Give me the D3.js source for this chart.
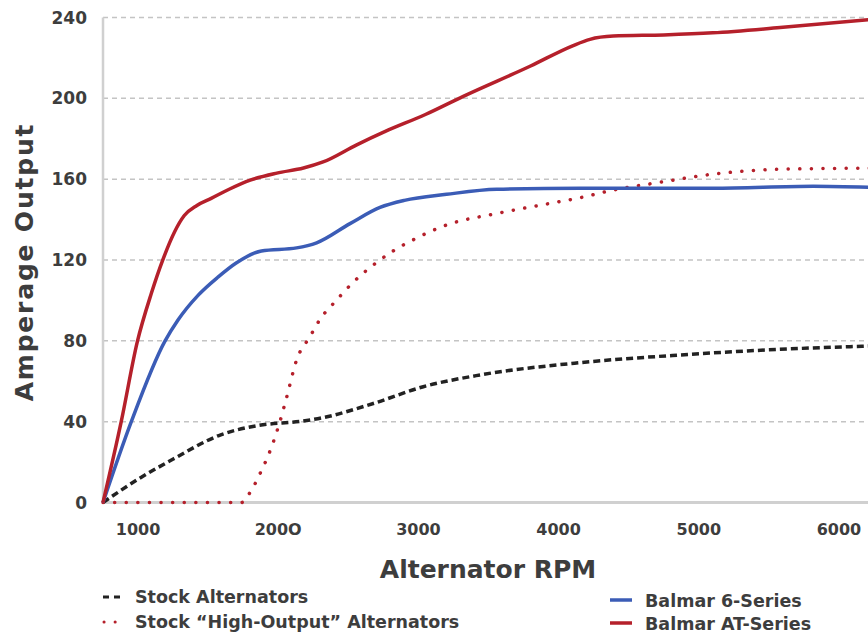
<!DOCTYPE html>
<html>
<head>
<meta charset="utf-8">
<script src="https://cdn.jsdelivr.net/npm/d3@7"></script>
<style>
  body { margin: 0; background: #fff; }
  text { font-family: "DejaVu Sans", sans-serif; font-weight: bold; fill: #3d3d3d; }
</style>
</head>
<body>
<svg width="868" height="632"></svg>
<script>
const svg = d3.select("svg");

// data (RPM -> amps)
const stockRpm  = [750, 1000, 1251, 1590, 1846, 2179, 2321, 2678, 3035, 3439, 4153, 4866, 5579, 6300];
const stockAmps = [0, 11.5, 21.5, 33.5, 38, 40.3, 42, 49, 57.3, 63.1, 69.2, 73, 75.8, 77.6];

const highRpm  = [750, 1000, 1300, 1600, 1739, 1798, 1882, 1953, 2012, 2060, 2131, 2226, 2298, 2417, 2535, 2678, 2809, 2963, 3201, 3558, 3915, 4153, 4390, 4747, 5103, 5579, 6300];
const highAmps = [0, 0, 0, 0, 0, 4.9, 16, 27.6, 40, 52, 70.5, 82, 90.6, 100.2, 109, 117.5, 124, 130, 137.3, 143, 147.7, 150.8, 154.6, 158.7, 162.5, 164.9, 165.5];

const sixRpm  = [750, 952, 1190, 1285, 1428, 1570, 1700, 1880, 2131, 2274, 2512, 2726, 2900, 3201, 3558, 4153, 5103, 5816, 6300];
const sixAmps = [0, 40, 79.6, 90.3, 102.5, 111.5, 118.5, 124.5, 126, 128.5, 138, 146, 149.5, 152.5, 155, 155.5, 155.5, 156.5, 155.8];

const atRpm  = [750, 880, 995, 1095, 1178, 1261, 1330, 1420, 1522, 1650, 1800, 1990, 2180, 2320, 2560, 2760, 3050, 3320, 3800, 4100, 4224, 4390, 4750, 5100, 5580, 6300];
const atAmps = [0, 40, 79.6, 103.5, 120.3, 134, 142, 147, 150.5, 155, 159.5, 163, 165.5, 168.5, 177, 183.5, 192, 201, 216, 226, 229.2, 230.8, 231.4, 232.4, 235, 239.5];

const xTicks = [1000, 2000, 3000, 4000, 5000, 6000];
const yTicks = [0, 40, 80, 120, 160, 200, 240];

const legendLeft = ["Stock Alternators", "Stock \u201CHigh-Output\u201D Alternators"];
const legendRight = ["Balmar 6-Series", "Balmar AT-Series"];

const red = "#b5202b";
const blue = "#3b5cb6";

const x = d3.scaleLinear().domain([750, 6300]).range([103, 881]);
const y = d3.scaleLinear().domain([0, 240]).range([502.5, 17.5]);

// gridlines
svg.append("g").selectAll("line")
  .data(yTicks.filter(d => d > 0))
  .join("line")
  .attr("x1", 103).attr("x2", 868)
  .attr("y1", d => y(d)).attr("y2", d => y(d))
  .attr("stroke", "#c4c4c4")
  .attr("stroke-width", 1.5)
  .attr("stroke-dasharray", "5,4");

// axis lines
svg.append("line")
  .attr("x1", 103).attr("x2", 103).attr("y1", y(240)).attr("y2", y(0))
  .attr("stroke", "#d0d0d0").attr("stroke-width", 2.5);
svg.append("line")
  .attr("x1", 103).attr("x2", 868).attr("y1", y(0)).attr("y2", y(0))
  .attr("stroke", "#d0d0d0").attr("stroke-width", 3);

// tick labels
svg.append("g").selectAll("text")
  .data(yTicks)
  .join("text")
  .attr("x", 87)
  .attr("y", d => y(d) + 6)
  .attr("text-anchor", "end")
  .style("font-size", "17px")
  .text(d => d);

svg.append("g").selectAll("text")
  .data(xTicks)
  .join("text")
  .attr("x", d => x(d))
  .attr("y", 535)
  .attr("text-anchor", "middle")
  .style("font-size", "16px")
  .text(d => d === 2000 ? "200O" : d);

// axis titles
svg.append("text")
  .attr("x", 488).attr("y", 578)
  .attr("text-anchor", "middle")
  .style("font-size", "25px")
  .text("Alternator RPM");

svg.append("text")
  .attr("transform", "translate(33,262) rotate(-90)")
  .attr("text-anchor", "middle")
  .style("font-size", "25px")
  .style("letter-spacing", "1.8px")
  .text("Amperage Output");

// lines
const line = d3.line()
  .x(d => x(d[0]))
  .y(d => y(d[1]))
  .curve(d3.curveMonotoneX);

const series = [
  {rpm: stockRpm, amps: stockAmps, color: "#222", width: 3.5, dash: "7,4"},
  {rpm: highRpm, amps: highAmps, color: red, width: 3.5, dash: "0.1,11.5", cap: "round"},
  {rpm: sixRpm, amps: sixAmps, color: blue, width: 3.5},
  {rpm: atRpm, amps: atAmps, color: red, width: 3.5}
];

svg.append("g").selectAll("path")
  .data(series)
  .join("path")
  .attr("d", s => line(d3.zip(s.rpm, s.amps)))
  .attr("fill", "none")
  .attr("stroke", s => s.color)
  .attr("stroke-width", s => s.width)
  .attr("stroke-dasharray", s => s.dash || null)
  .attr("stroke-linecap", s => s.cap || "butt");

// legend
const lg = svg.append("g");
lg.append("line")
  .attr("x1", 103).attr("x2", 120).attr("y1", 597).attr("y2", 597)
  .attr("stroke", "#222").attr("stroke-width", 3).attr("stroke-dasharray", "6,5");
lg.append("line")
  .attr("x1", 104).attr("x2", 120).attr("y1", 622).attr("y2", 622)
  .attr("stroke", red).attr("stroke-width", 3).attr("stroke-dasharray", "0.1,11")
  .attr("stroke-linecap", "round");
lg.selectAll("text.l")
  .data(legendLeft)
  .join("text")
  .attr("class", "l")
  .attr("x", 135)
  .attr("y", (d, i) => 603 + i * 25)
  .style("font-size", "17.5px")
  .text(d => d);

[blue, red].forEach((c, i) => {
  lg.append("line")
    .attr("x1", 610).attr("x2", 632)
    .attr("y1", 600 + i * 23).attr("y2", 600 + i * 23)
    .attr("stroke", c).attr("stroke-width", 3.5);
});
lg.selectAll("text.r")
  .data(legendRight)
  .join("text")
  .attr("class", "r")
  .attr("x", 645)
  .attr("y", (d, i) => 607 + i * 22.5)
  .style("font-size", "17.5px")
  .text(d => d);
</script>
</body>
</html>
